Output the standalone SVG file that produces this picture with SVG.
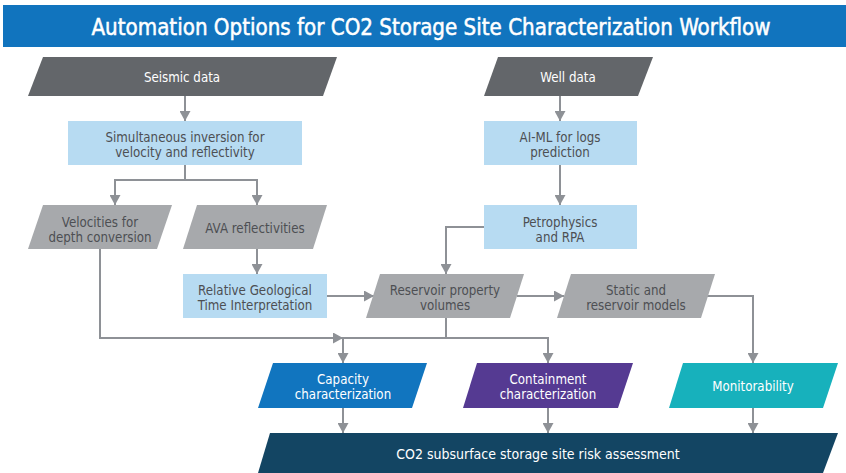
<svg xmlns="http://www.w3.org/2000/svg" width="846" height="473" viewBox="0 0 846 473">
<defs>
<marker id="ah" markerUnits="userSpaceOnUse" markerWidth="11" markerHeight="11" refX="10" refY="5.5" orient="auto">
<path d="M0,0 L10,5.5 L0,11 z" fill="#8E9196"/>
</marker>
<style>
text{font-family:"DejaVu Sans Condensed","Liberation Sans Narrow","DejaVu Sans",sans-serif;font-size:13.2px;text-anchor:middle}
.dk{fill:#63666A}
.lg{fill:#A7A9AC}
.lb{fill:#B7DBF2}
.tw{fill:#FFFFFF}
.td{fill:#4D4F53}
.con path{fill:none;stroke:#8E9196;stroke-width:2}
</style>
</defs>
<rect x="0" y="0" width="846" height="473" fill="#FFFFFF"/>
<g id="title">
<rect x="3" y="5" width="843" height="42" fill="#1174BE"/>
<text x="431" y="35" class="tw" style="font-size:23px;stroke:#FFFFFF;stroke-width:0.5" textLength="679" lengthAdjust="spacingAndGlyphs">Automation Options for CO2 Storage Site Characterization Workflow</text>
</g>
<g class="con" id="connectors">
<path d="M185,96 V121" marker-end="url(#ah)"/>
<path d="M185,165 V180 H115 V205" marker-end="url(#ah)"/>
<path d="M185,180 H257 V205" marker-end="url(#ah)"/>
<path d="M257,249 V274" marker-end="url(#ah)"/>
<path d="M327,296 H374" marker-end="url(#ah)"/>
<path d="M100,249 V338 H343" marker-end="url(#ah)"/>
<path d="M446,318 V338 H548 V363" marker-end="url(#ah)"/>
<path d="M446,338 H343 V363" marker-end="url(#ah)"/>
<path d="M560,96 V121" marker-end="url(#ah)"/>
<path d="M560,165 V205" marker-end="url(#ah)"/>
<path d="M484,227 H446 V274" marker-end="url(#ah)"/>
<path d="M517,296 H564" marker-end="url(#ah)"/>
<path d="M707,296 H753 V363" marker-end="url(#ah)"/>
<path d="M343,408 V433" marker-end="url(#ah)"/>
<path d="M548,408 V433" marker-end="url(#ah)"/>
<path d="M753,408 V433" marker-end="url(#ah)"/>
</g>
<g id="seismic">
<polygon points="43,57 337,57 323,96 28,96" class="dk"/>
<text x="182" y="82" class="tw">Seismic data</text>
</g>
<g id="simul">
<rect x="68" y="121" width="234" height="44" class="lb"/>
<text x="185" y="141.5" class="td">Simultaneous inversion for</text>
<text x="185" y="156.5" class="td">velocity and reflectivity</text>
</g>
<g id="velocities">
<polygon points="43,205 172,205 157,249 28,249" class="lg"/>
<text x="100" y="226.5" class="td">Velocities for</text>
<text x="100" y="241.5" class="td">depth conversion</text>
</g>
<g id="ava">
<polygon points="197,205 327,205 313,249 183,249" class="lg"/>
<text x="255" y="233" class="td">AVA reflectivities</text>
</g>
<g id="rgt">
<rect x="183" y="274" width="144" height="44" class="lb"/>
<text x="255" y="294.5" class="td">Relative Geological</text>
<text x="255" y="309.5" class="td">Time Interpretation</text>
</g>
<g id="reservoir">
<polygon points="380,274 524,274 510,318 366,318" class="lg"/>
<text x="445" y="294.5" class="td">Reservoir property</text>
<text x="445" y="309.5" class="td">volumes</text>
</g>
<g id="static">
<polygon points="571,274 715,274 701,318 557,318" class="lg"/>
<text x="636" y="294.5" class="td">Static and</text>
<text x="636" y="309.5" class="td">reservoir models</text>
</g>
<g id="well">
<polygon points="498,57 653,57 638,96 484,96" class="dk"/>
<text x="568" y="82" class="tw">Well data</text>
</g>
<g id="aiml">
<rect x="484" y="121" width="153" height="44" class="lb"/>
<text x="560" y="141.5" class="td">AI-ML for logs</text>
<text x="560" y="156.5" class="td">prediction</text>
</g>
<g id="petro">
<rect x="484" y="205" width="153" height="44" class="lb"/>
<text x="560" y="226.5" class="td">Petrophysics</text>
<text x="560" y="241.5" class="td">and RPA</text>
</g>
<g id="capacity">
<polygon points="273,363 427,363 412,408 258,408" fill="#1175BF"/>
<text x="343" y="383.5" class="tw">Capacity</text>
<text x="343" y="398.5" class="tw">characterization</text>
</g>
<g id="containment">
<polygon points="477,363 633,363 618,408 463,408" fill="#553A92"/>
<text x="548" y="383.5" class="tw">Containment</text>
<text x="548" y="398.5" class="tw">characterization</text>
</g>
<g id="monitor">
<polygon points="683,363 838,363 823,408 669,408" fill="#17B1BC"/>
<text x="753" y="391" class="tw">Monitorability</text>
</g>
<g id="risk">
<polygon points="270,433 838,433 823,473 258,473" fill="#134563"/>
<text x="538" y="459" class="tw" style="font-size:14px">CO2 subsurface storage site risk assessment</text>
</g>
</svg>
